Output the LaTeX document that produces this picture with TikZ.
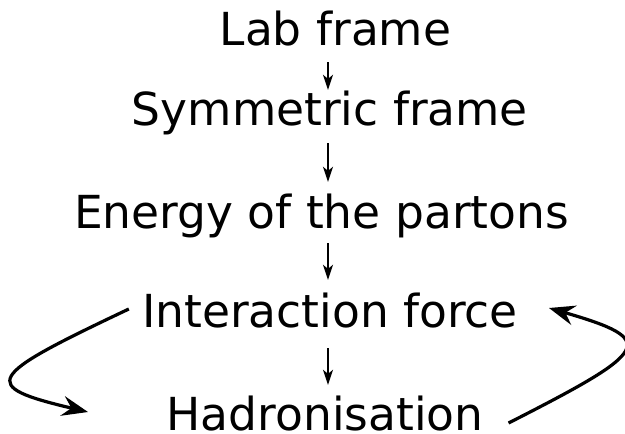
\documentclass[tikz,border=0pt]{standalone}
\usepackage{fontspec}
\setmainfont{DejaVu Sans}
\usetikzlibrary{arrows.meta,calc}
\begin{document}
\begin{tikzpicture}[x=1pt,y=-1pt,
  lbl/.style={inner sep=0pt, anchor=base, font=\fontsize{45.5}{54}\selectfont, text height=33pt, text depth=3pt},
  small/.style={line width=1.4pt, -{Stealth[length=15pt,width=10pt,inset=4pt]}},
  big/.style={line width=3.2pt, -{Stealth[length=26pt,width=20pt,inset=9pt]}}]
\useasboundingbox (0,0) rectangle (625,434);
\node[lbl] (lab) at (335.5,45) {Lab frame};
\node[lbl] (sym) at (330,125) {Symmetric frame};
\node[lbl] (ene) at (321.5,228) {Energy of the partons};
\node[lbl] (int) at (330,327) {Interaction force};
\node[lbl] (had) at (325,430) {Hadronisation};
\coordinate (ax) at (328,0);
\coordinate (lt) at (88,412);
\coordinate (rt) at (549,308);
\draw[small, shorten <=14pt, shorten >=2pt] (lab.south -| ax) -- (sym.north -| ax);
\draw[small, shorten <=15pt, shorten >=13pt] (sym.south -| ax) -- (ene.north -| ax);
\draw[small, shorten <=12pt, shorten >=14pt] (ene.south -| ax) -- (int.north -| ax);
\draw[small, shorten <=18pt, shorten >=12pt] (int.south -| ax) -- (had.north -| ax);
\draw[big] ($(int.west)+(-13,-3)$) .. controls (-15,377) and (-22,386) .. (lt);
\draw[big] ($(had.east)+(25,8)$) .. controls (652,350) and (659,340) .. (rt);
\end{tikzpicture}
\end{document}
